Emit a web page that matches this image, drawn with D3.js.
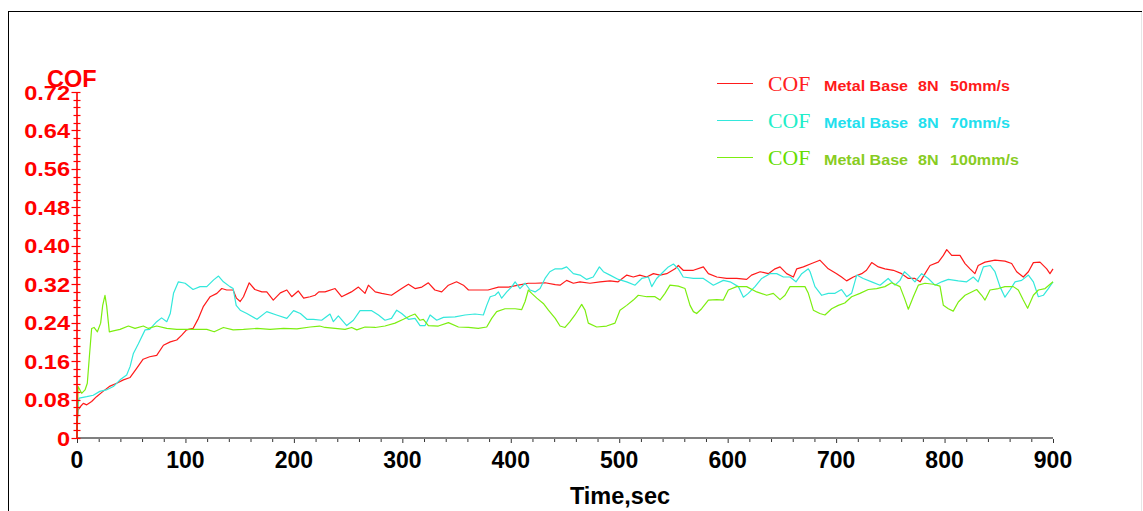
<!DOCTYPE html>
<html><head><meta charset="utf-8">
<script src="https://cdn.jsdelivr.net/npm/d3@7"></script>
<style>body{margin:0;background:#fff}svg{display:block}</style>
</head><body><svg id="c" width="1143" height="511"></svg>
<script>
// ---- data ----
const xTickValues = d3.range(0, 901, 20);
const xLabelValues = [0, 100, 200, 300, 400, 500, 600, 700, 800, 900];
const yMinorTicks = d3.range(0, 46).map(i => +(i * 0.016).toFixed(3));
const yLabelValues = [0, 0.08, 0.16, 0.24, 0.32, 0.40, 0.48, 0.56, 0.64, 0.72];
const yLabelTexts = ["0", "0.08", "0.16", "0.24", "0.32", "0.40", "0.48", "0.56", "0.64", "0.72"];

const seriesNames = ["50mm/s", "70mm/s", "100mm/s"];

const cof50 = [[0,0.03],[1,0.058],[3,0.065],[5.8,0.072],[9,0.069],[13.5,0.076],[18,0.086],[24,0.097],[30.5,0.108],[36.6,0.114],[42.8,0.121],[49,0.126],[55,0.145],[61,0.164],[67,0.169],[73.5,0.172],[79.7,0.193],[86,0.2],[92,0.204],[96.6,0.214],[101,0.225],[107,0.228],[112,0.249],[116.6,0.274],[122.8,0.294],[129,0.301],[133.5,0.311],[138,0.308],[144,0.308],[147,0.291],[150.5,0.284],[153.5,0.294],[158.8,0.323],[164,0.309],[170.5,0.304],[175,0.304],[181,0.287],[187.5,0.302],[193.5,0.308],[198,0.294],[204,0.306],[209,0.291],[215,0.294],[219.5,0.297],[223,0.304],[228.7,0.304],[238,0.311],[244,0.294],[253,0.304],[259.5,0.314],[265.6,0.301],[268.7,0.318],[275,0.304],[281,0.301],[290,0.297],[299.4,0.311],[305.6,0.32],[311.7,0.311],[318,0.314],[324,0.323],[330,0.308],[336.3,0.304],[342.5,0.318],[350,0.325],[356.3,0.318],[361,0.308],[370,0.308],[379,0.308],[388.6,0.314],[397.8,0.314],[407,0.318],[416,0.322],[422.4,0.322],[431.6,0.323],[441,0.319],[445.4,0.318],[451.5,0.328],[457.7,0.322],[463.8,0.325],[473,0.322],[482.3,0.325],[491.5,0.327],[499,0.325],[507,0.339],[513,0.335],[519,0.339],[525.3,0.335],[531.5,0.342],[537.6,0.339],[543.8,0.342],[551.5,0.352],[554.5,0.359],[559,0.349],[568.4,0.349],[577.6,0.356],[582.2,0.342],[590,0.335],[599,0.332],[608.3,0.332],[617.5,0.33],[622,0.339],[630,0.346],[637.5,0.342],[643.7,0.352],[648.3,0.356],[654.4,0.342],[660.6,0.335],[663.7,0.352],[669.8,0.356],[677.4,0.363],[685,0.37],[692.8,0.352],[700.5,0.342],[705,0.335],[709.7,0.327],[715.9,0.335],[723.6,0.342],[728,0.349],[732.8,0.365],[739,0.356],[745,0.352],[752.8,0.349],[760.4,0.342],[766.6,0.332],[772.7,0.332],[777.4,0.325],[782,0.342],[786.6,0.359],[794.3,0.366],[798.9,0.38],[802,0.392],[806.6,0.38],[814.2,0.38],[818.9,0.363],[823.5,0.352],[828,0.342],[831,0.359],[837.3,0.366],[846.5,0.37],[855.7,0.368],[861.9,0.363],[866.5,0.346],[872.6,0.335],[877.3,0.346],[881.9,0.365],[888,0.366],[894.2,0.352],[897.2,0.342],[900,0.352]];

const cof70 = [[0,0],[1,0.07],[2,0.083],[9,0.086],[15,0.089],[21,0.097],[27,0.1],[33.5,0.107],[39.7,0.121],[45.8,0.131],[49,0.149],[52,0.176],[56.6,0.196],[62.8,0.225],[67,0.226],[73.5,0.242],[78,0.25],[82.8,0.242],[86,0.259],[89,0.301],[93.5,0.325],[99.7,0.322],[107,0.309],[113.5,0.315],[119.7,0.315],[126,0.329],[130.5,0.337],[135,0.325],[141,0.315],[144,0.311],[146.8,0.276],[150.5,0.266],[156.6,0.259],[166,0.247],[175,0.263],[184,0.256],[193.5,0.249],[199.7,0.265],[206,0.259],[212,0.247],[218,0.247],[225.6,0.245],[233.3,0.258],[236.4,0.242],[241,0.254],[248.7,0.234],[254.9,0.245],[261,0.265],[271.8,0.265],[278,0.256],[284,0.245],[290,0.249],[294.8,0.266],[299.4,0.259],[305.6,0.247],[311.7,0.249],[316.3,0.234],[321,0.234],[325.6,0.256],[331.7,0.245],[337.9,0.251],[348.6,0.252],[357.8,0.256],[367,0.258],[374.7,0.256],[377.8,0.276],[381,0.294],[385.5,0.297],[388.6,0.304],[391.6,0.291],[396.3,0.304],[401,0.315],[404,0.325],[408.5,0.311],[413.2,0.322],[417.8,0.308],[422.4,0.304],[427,0.311],[431.6,0.332],[436,0.346],[441,0.352],[447,0.352],[451.5,0.356],[457.7,0.342],[463.8,0.339],[470,0.33],[476,0.335],[481.7,0.356],[485.4,0.346],[491.5,0.339],[499.2,0.33],[506.9,0.325],[514.6,0.318],[520.7,0.332],[526.9,0.335],[530,0.315],[534.5,0.332],[540.7,0.346],[545.3,0.356],[550,0.362],[554.5,0.352],[559,0.335],[568.4,0.332],[577.6,0.332],[586.8,0.318],[596,0.328],[602.2,0.325],[609.9,0.315],[614.5,0.293],[619,0.301],[625.2,0.315],[631.4,0.332],[639,0.342],[645.2,0.342],[651.4,0.335],[657.5,0.335],[663,0.325],[668.3,0.342],[674.4,0.352],[676,0.346],[680.5,0.315],[686.7,0.297],[692.8,0.301],[699,0.301],[705,0.309],[709.7,0.294],[714.3,0.301],[719,0.339],[725,0.332],[732.8,0.325],[740.5,0.318],[748,0.332],[754.3,0.318],[758.9,0.328],[763,0.346],[766.6,0.339],[772.7,0.325],[778.9,0.342],[785,0.332],[791.2,0.318],[797.3,0.325],[803.5,0.33],[812.7,0.327],[820.4,0.325],[826.5,0.335],[831,0.325],[835.8,0.356],[842,0.359],[846.5,0.346],[851.1,0.315],[855.7,0.293],[860.3,0.308],[865,0.325],[871.1,0.328],[877.3,0.339],[881.9,0.325],[886.5,0.294],[891.1,0.297],[895.7,0.311],[900,0.325]];

const cof100 = [[0,0],[1,0.107],[4.3,0.093],[7.4,0.1],[9.5,0.114],[11.4,0.169],[13.5,0.228],[15.7,0.23],[18.8,0.221],[21.8,0.239],[23.7,0.276],[25.8,0.297],[27.4,0.274],[29.8,0.221],[33.5,0.223],[39.7,0.226],[47.4,0.233],[53.5,0.228],[61.2,0.233],[65.8,0.228],[73.5,0.233],[82.8,0.228],[92,0.226],[101,0.226],[110.5,0.226],[119.7,0.226],[126.5,0.221],[135,0.23],[144,0.225],[153.5,0.226],[166,0.228],[178,0.226],[190.5,0.228],[202.8,0.227],[215,0.231],[223.7,0.233],[228.7,0.23],[238,0.228],[247.2,0.226],[253.3,0.23],[258,0.225],[265.6,0.231],[275,0.23],[284,0.233],[293.3,0.239],[301,0.247],[307.1,0.254],[311.7,0.258],[316.3,0.245],[319.4,0.247],[324,0.234],[333.2,0.233],[342.5,0.24],[351.7,0.231],[361,0.23],[370,0.228],[377.8,0.231],[382.4,0.249],[387,0.263],[394.7,0.269],[404,0.269],[410,0.267],[413.2,0.284],[416.2,0.308],[419.3,0.301],[424,0.291],[430,0.28],[434.7,0.266],[441,0.249],[445.4,0.233],[450,0.23],[454.6,0.242],[459.2,0.256],[465.4,0.278],[468.5,0.266],[471.5,0.239],[479.2,0.231],[488.4,0.233],[496.1,0.239],[500.7,0.266],[506.9,0.276],[513,0.287],[517.6,0.297],[525.3,0.294],[533,0.294],[537.6,0.287],[542.2,0.301],[546.8,0.318],[554.5,0.316],[560.7,0.311],[565.3,0.276],[568.4,0.263],[571.4,0.259],[576,0.269],[582.2,0.287],[590,0.288],[596,0.287],[600.6,0.308],[608.3,0.315],[617.5,0.315],[626.8,0.304],[636,0.297],[642.1,0.301],[648.3,0.288],[652.9,0.297],[657.5,0.315],[663.7,0.315],[671.3,0.315],[674.4,0.301],[679,0.266],[685,0.259],[689.7,0.256],[695.9,0.269],[702,0.276],[708,0.281],[714.3,0.294],[722,0.301],[729.7,0.309],[737.4,0.311],[745,0.315],[751.2,0.323],[758.9,0.315],[763,0.291],[766.6,0.268],[771.2,0.294],[775.8,0.318],[782,0.322],[789.6,0.32],[795.8,0.316],[798.9,0.276],[803.5,0.269],[808,0.264],[812.7,0.283],[818.9,0.297],[825,0.304],[829.6,0.309],[834.2,0.297],[837.3,0.287],[841.9,0.308],[849.6,0.311],[855.7,0.315],[863.4,0.315],[868,0.308],[872.6,0.287],[876.6,0.27],[881.9,0.297],[886.5,0.308],[892.7,0.311],[900,0.325]];

const seriesData = [cof50, cof70, cof100];
const lineColors = ["#ff1a1a", "#33e8dc", "#7cee10"];
const cofColors = ["#ff2020", "#22eec8", "#66dd00"];
const textColors = ["#ff1a1a", "#22e0ee", "#88cc22"];

// ---- drawing ----
const svg = d3.select("#c");
const x = d3.scaleLinear().domain([0, 900]).range([77, 1053]);
const y = d3.scaleLinear().domain([0, 0.72]).range([438, 92]);
const SANS = "'Liberation Sans', Arial, sans-serif";
const SERIF = "'Liberation Serif', 'Times New Roman', serif";

svg.append("rect").attr("width", 1143).attr("height", 511).attr("fill", "#fff");
// frame
svg.append("line").attr("x1", 8.5).attr("x2", 8.5).attr("y1", 11).attr("y2", 511).attr("stroke", "#000");
svg.append("line").attr("x1", 8).attr("x2", 1142).attr("y1", 11.5).attr("y2", 11.5).attr("stroke", "#000");
svg.append("line").attr("x1", 1141.5).attr("x2", 1141.5).attr("y1", 12).attr("y2", 511).attr("stroke", "#e6e6e6");

// x axis
const xAxis = d3.axisBottom(x).tickValues(xTickValues).tickSize(3).tickFormat("");
const gx = svg.append("g").attr("transform", `translate(0,${y(0)})`).call(xAxis);
gx.select(".domain").attr("stroke", "#808080").attr("stroke-width", 2).attr("d", `M${x(0)},0H${x(900)}`);
gx.selectAll(".tick line").attr("stroke", "#333").attr("y1", 1)
  .attr("y2", d => d % 100 === 0 ? 5 : 4);
svg.append("g").selectAll("text").data(xLabelValues).join("text")
  .attr("x", d => x(d)).attr("y", 468).attr("text-anchor", "middle")
  .attr("font-family", SANS).attr("font-weight", "bold").attr("font-size", 23)
  .attr("fill", "#000").text(d => d);
svg.append("text").attr("x", 620).attr("y", 504).attr("text-anchor", "middle")
  .attr("font-family", SANS).attr("font-weight", "bold").attr("font-size", 23.5)
  .attr("fill", "#000").text("Time,sec");

// lines
const line = d3.line().x(d => x(d[0])).y(d => y(d[1]));
svg.append("g").selectAll("path").data(seriesData).join("path")
  .attr("d", line).attr("fill", "none")
  .attr("stroke", (d, i) => lineColors[i]).attr("stroke-width", 1.2)
  .attr("stroke-linejoin", "round");

// y axis (red)
const gy = svg.append("g");
gy.append("line").attr("x1", x(0)).attr("x2", x(0)).attr("y1", y(0)).attr("y2", y(0.72))
  .attr("stroke", "#ff0000").attr("stroke-width", 1.6);
gy.selectAll("line.minor").data(yMinorTicks).join("line").attr("class", "minor")
  .attr("x1", d => x(0) - (yLabelValues.some(v => Math.abs(v - d) < 1e-6) ? 5.5 : 3.5))
  .attr("x2", x(0) + 3.5)
  .attr("y1", d => Math.round(y(d)) + 0.5).attr("y2", d => Math.round(y(d)) + 0.5)
  .attr("stroke", "#ff0000").attr("stroke-width", 1.2);
gy.selectAll("text").data(yLabelValues).join("text")
  .attr("transform", d => `translate(70,${y(d) + 7.5}) scale(1.15,1)`)
  .attr("text-anchor", "end")
  .attr("font-family", SANS).attr("font-weight", "bold").attr("font-size", 20.5)
  .attr("fill", "#ff0000").text((d, i) => yLabelTexts[i]);
svg.append("text").attr("x", 47).attr("y", 87)
  .attr("font-family", SANS).attr("font-weight", "bold").attr("font-size", 23.5)
  .attr("fill", "#ff0000").text("COF");

// legend
const legendY = [83, 120, 157];
const lg = svg.append("g");
seriesNames.forEach((name, i) => {
  const ly = legendY[i];
  lg.append("line").attr("x1", 717).attr("x2", 753).attr("y1", ly + 0.5).attr("y2", ly + 0.5)
    .attr("stroke", lineColors[i]).attr("stroke-width", 1.2);
  lg.append("text").attr("transform", `translate(768,${ly + 8}) scale(1.06,1)`)
    .attr("font-family", SERIF).attr("font-size", 20.5).attr("fill", cofColors[i]).text("COF");
  const parts = [["Metal Base", 824], ["8N", 918], [name, 950]];
  parts.forEach(([t, px]) => {
    lg.append("text").attr("transform", `translate(${px},${ly + 7.5}) scale(1.15,1)`)
      .attr("font-family", SANS).attr("font-weight", "bold").attr("font-size", 14)
      .attr("fill", textColors[i]).text(t);
  });
});
</script></body></html>
